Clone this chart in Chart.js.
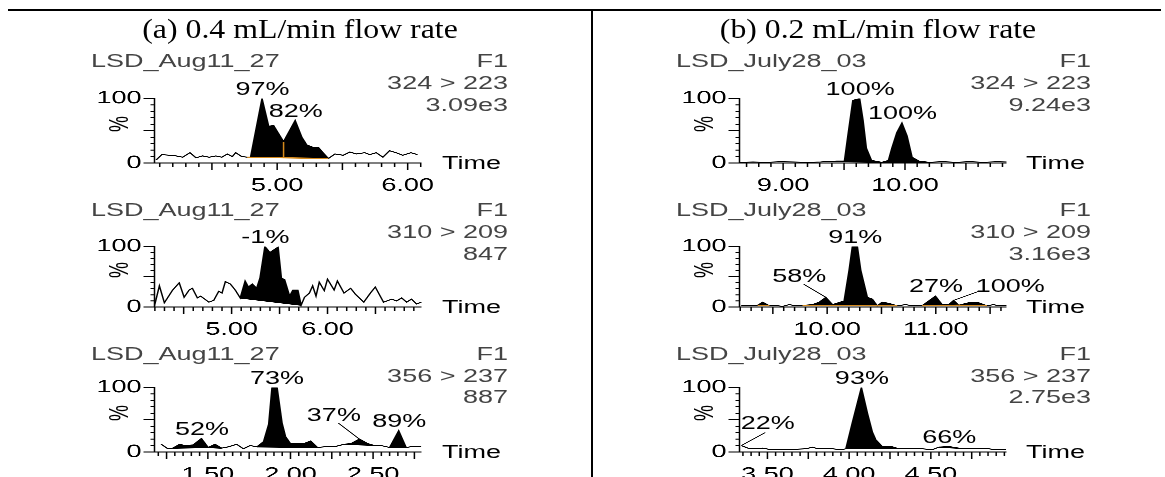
<!DOCTYPE html>
<html>
<head>
<meta charset="utf-8">
<script src="https://cdn.jsdelivr.net/npm/chart.js@4.4.1/dist/chart.umd.min.js"></script>
<style>
html, body { margin: 0; padding: 0; background: #fff; overflow: hidden; }
body { width: 1165px; height: 477px; position: relative; }
.rule { position: absolute; background: #000; }
#stage { position: absolute; left: 0; top: 0; width: 777px; height: 477px;
  transform: scaleX(1.5); transform-origin: 0 0; }
#stage canvas { position: absolute; }
.t { position: absolute; white-space: nowrap; line-height: 1; color: #000;
  font-family: "Liberation Sans", Arial, sans-serif; font-size: 18px; }
.g { color: #444; }
.h { position: absolute; white-space: nowrap; line-height: 1; color: #000;
  font-family: "Liberation Serif", "Times New Roman", serif; font-size: 27px; }
</style>
</head>
<body>
<div class="rule" style="left:8px;top:9px;width:1153px;height:2px"></div>
<div class="rule" style="left:591px;top:9px;width:2px;height:468px"></div>
<div id="stage"></div>
<script>
// グラフ部分は横に約1.5倍伸ばされているので、ステージごと横に伸ばす
const SX = 1.5;
const ORANGE = '#d4891c';

// ---- (a) 0.4 mL/min ----
const a1Time = [4.074, 4.116, 4.175, 4.226, 4.276, 4.332, 4.378, 4.428, 4.479, 4.530,
  4.576, 4.618, 4.656, 4.682, 4.728, 4.770, 4.796, 4.884, 4.935, 4.973,
  5.049, 5.138, 5.189, 5.227, 5.278, 5.316, 5.392, 5.443, 5.506, 5.557,
  5.607, 5.671, 5.709, 5.759, 5.810, 5.861, 5.911, 5.962, 6.025, 6.076];
const a1Val = [5, 13, 12, 11, 9, 16, 8, 11, 9, 11,
  9, 14, 10, 16, 10, 9, 9, 100, 57, 58,
  33, 66, 40, 28, 24, 24, 7, 14, 12, 17,
  14, 16, 13, 16, 9, 19, 16, 12, 16, 13];
const a1Peaks = [[4.770, 5.392, 9, 7]];          // [開始, 終了, 開始ベース, 終了ベース]
const a1Splits = [[5.049, 8, 33]];               // ピーク分割線
const a1Labels = [['97%', 4.884, 100], ['82%', 5.138, 66]];
const a1Axis = [4.06, 6.106, 0.1, 0.5, 1];       // [最小, 最大, 細目盛, 太目盛, ラベル間隔]

const a2Time = [4.196, 4.247, 4.299, 4.385, 4.454, 4.505, 4.557, 4.591, 4.643, 4.677,
  4.763, 4.814, 4.866, 4.900, 4.935, 4.987, 5.038, 5.090, 5.141, 5.175,
  5.216, 5.261, 5.296, 5.347, 5.399, 5.485, 5.519, 5.553, 5.605, 5.639,
  5.691, 5.725, 5.760, 5.811, 5.845, 5.880, 5.914, 5.966, 6.000, 6.069,
  6.103, 6.172, 6.241, 6.292, 6.378, 6.447, 6.498, 6.584, 6.670, 6.720,
  6.773, 6.825, 6.876, 6.928, 6.979];
const a2Val = [2, 35, 7, 28, 40, 16, 28, 31, 15, 18,
  8, 11, 26, 23, 42, 38, 28, 15, 43, 33,
  38, 31, 48, 100, 90, 99, 48, 45, 18, 28,
  28, 3, 16, 23, 35, 18, 41, 27, 46, 28,
  43, 23, 31, 21, 8, 23, 33, 8, 13, 10,
  15, 8, 13, 5, 8];
const a2Peaks = [[5.090, 5.725, 15, 3]];
const a2Labels = [['-1%', 5.347, 100]];
const a2Axis = [4.196, 6.98, 0.1, 0.5, 1];

const a3Time = [1.218, 1.258, 1.288, 1.329, 1.360, 1.411, 1.461, 1.502, 1.543, 1.583,
  1.624, 1.674, 1.715, 1.756, 1.797, 1.837, 1.868, 1.888, 1.919, 1.949,
  1.970, 2.000, 2.081, 2.122, 2.163, 2.203, 2.264, 2.325, 2.366, 2.417,
  2.468, 2.508, 2.549, 2.600, 2.655, 2.700, 2.750, 2.790];
const a3Val = [12, 5, 6, 12, 10, 11, 21, 7, 12, 6,
  8, 12, 5, 10, 8, 16, 43, 100, 100, 45,
  24, 13, 13, 17, 7, 8, 8, 12, 13, 20,
  13, 10, 10, 7, 33, 7, 9, 8];
const a3Peaks = [[1.288, 1.502, 6, 7], [1.502, 1.583, 7, 6], [1.797, 2.163, 8, 7],
  [2.325, 2.549, 12, 10], [2.600, 2.700, 7, 7]];
const a3Labels = [['73%', 1.915, 100], ['52%', 1.461, 21], ['37%', 2.417, 20], ['89%', 2.655, 33]];
const a3Axis = [1.177, 2.793, 0.05, 0.25, 0.5];

// ---- (b) 0.2 mL/min ----
const b1Time = [8.642, 8.753, 8.864, 8.975, 9.086, 9.197, 9.308, 9.378, 9.440, 9.503,
  9.531, 9.572, 9.628, 9.656, 9.683, 9.725, 9.808, 9.864, 9.892, 9.933,
  9.975, 10.017, 10.058, 10.114, 10.197, 10.308, 10.419, 10.530, 10.642, 10.753,
  10.833];
const b1Val = [1, 1.5, 1, 2, 1.5, 1, 1.5, 2.5, 3, 3,
  42, 97, 100, 66, 23, 4, 1, 4, 23, 47,
  62, 42, 9, 3, 1, 2, 1, 2, 1, 2,
  1.5];
const b1Peaks = [[9.378, 9.808, 2.5, 1], [9.808, 10.197, 1, 1]];
const b1Labels = [['100%', 9.628, 100], ['100%', 9.975, 62]];
const b1Axis = [8.642, 10.833, 0.1, 0.5, 1];

const b2Time = [9.208, 9.284, 9.361, 9.406, 9.468, 9.529, 9.590, 9.651, 9.713, 9.773,
  9.865, 9.927, 9.988, 10.049, 10.156, 10.202, 10.232, 10.278, 10.309, 10.370,
  10.416, 10.461, 10.507, 10.569, 10.645, 10.722, 10.783, 10.874, 10.997, 11.058,
  11.119, 11.165, 11.211, 11.303, 11.394, 11.471, 11.532, 11.578, 11.650];
const b2Val = [2, 2, 3, 8, 2, 2.5, 1, 4, 2, 2.5,
  4, 8, 16, 4, 10, 61, 100, 100, 61, 16,
  13, 2, 8, 6, 2, 4, 2, 2, 18, 4,
  4, 11, 3, 7, 7, 2, 4, 2, 3];
const b2Peaks = [[9.361, 9.468, 3, 2], [9.773, 10.461, 2.5, 2], [10.461, 10.645, 2, 2],
  [10.874, 11.211, 2, 3], [11.211, 11.471, 3, 2]];
const b2Labels = [['91%', 10.255, 100], ['58%', 9.988, 16], ['27%', 10.997, 18], ['100%', 11.165, 11]];
const b2Axis = [9.193, 11.651, 0.1, 0.5, 1];

const b3Time = [3.340, 3.380, 3.431, 3.471, 3.512, 3.573, 3.654, 3.736, 3.776, 3.807,
  3.858, 3.898, 3.949, 3.980, 4.020, 4.075, 4.112, 4.142, 4.163, 4.204,
  4.265, 4.305, 4.386, 4.447, 4.508, 4.549, 4.610, 4.671, 4.732, 4.793,
  4.854, 4.895, 4.935, 4.960];
const b3Val = [10, 6, 5, 6, 4, 3.5, 4, 5, 7.5, 5,
  5, 5, 3.5, 5, 46, 100, 60, 31, 19, 8,
  8, 5, 5, 5, 3.5, 7.5, 8.5, 6, 5, 5,
  5, 3.5, 3.5, 4];
const b3Peaks = [[3.980, 4.305, 5, 5], [4.549, 4.732, 7.5, 5]];
const b3Labels = [['93%', 4.075, 100], ['22%', 3.340, 10], ['66%', 4.610, 8.5]];
const b3Axis = [3.329, 4.963, 0.05, 0.25, 0.5];

// ---- 文字 ----
const headers = ['(a) 0.4 mL/min flow rate', '(b) 0.2 mL/min flow rate'];
const sampleNames = ['LSD_Aug11_27', 'LSD_July28_03'];
const transitions = ['324 > 223', '310 > 209', '356 > 237'];
const aMaxIntensity = ['3.09e3', '847', '887'];
const bMaxIntensity = ['9.24e3', '3.16e3', '2.75e3'];

// ---- 配置（最終ピクセル） ----
const colAxisX = [155, 740];
const colPlotRight = [423, 1007];
const colNameX = [91, 676];
const colRightX = [508, 1091];
const colHeaderX = [300, 878];
const HEADER_W = 316;
const rowTop = [93, 241, 382];
const rowBottom = [163, 307, 452];
const rowTitleBase = [67, 216, 360];
const rowIonBase = [89, 238, 382];
const rowMaxBase = [111, 260, 403];
// 引き出し線付きラベル [dx, dy, 線の始点x, 線の始点y]（ラベル中心・ベースライン基準）
const leaderOffsets = {
  'a3:37%': [-26, -18, 5, 2],
  'b2:58%': [-27, -15, 5, 2],
  'b2:100%': [56, -8, -31, -1],
  'b3:22%': [26, -16, -2, 3]
};

const Y_W = 45, PAD_T = 14, PAD_R = 25, X_H = 32;
const FONT = '"Liberation Sans", Arial, sans-serif';
const stage = document.getElementById('stage');

function addText(txt, xu, base, align, cls) {
  const d = document.createElement('div');
  d.className = 't ' + (cls || '');
  d.textContent = txt;
  d.style.left = xu + 'px';
  d.style.top = (base - 18 * 0.8465) + 'px';
  if (align === 'right') d.style.transform = 'translateX(-100%)';
  else if (align === 'center') d.style.transform = 'translateX(-50%)';
  stage.appendChild(d);
  return d;
}

// 見出し（本文の文字なので伸ばさず、幅だけ合わせる）
headers.forEach((h, c) => {
  const d = document.createElement('div');
  d.className = 'h';
  d.textContent = h;
  document.body.appendChild(d);
  const w = d.offsetWidth;
  d.style.left = colHeaderX[c] + 'px';
  d.style.top = (39 - 27 * 0.8375) + 'px';
  d.style.transform = 'translateX(-50%) scaleX(' + (HEADER_W / w).toFixed(3) + ')';
});

const isStep = (v, step) => Math.abs(v / step - Math.round(v / step)) < 1e-6;

function axisTicks(min, max, step) {
  const out = [];
  for (let k = Math.ceil(min / step - 1e-9); k * step <= max + 1e-9; k++) {
    out.push({ value: +(k * step).toFixed(4) });
  }
  return out;
}

// 目盛線と軸線
const tickMarks = {
  id: 'tickMarks',
  afterDraw(chart, args, opts) {
    const { ctx, chartArea: a, scales: { x, y } } = chart;
    ctx.save();
    ctx.strokeStyle = '#000';
    ctx.lineWidth = 1;
    ctx.beginPath();
    ctx.moveTo(a.left, a.top - 0.5);
    ctx.lineTo(a.left, a.bottom);
    ctx.lineTo(a.right, a.bottom);
    x.ticks.forEach(t => {
      const px = x.getPixelForValue(t.value);
      const len = isStep(t.value, opts.tall) ? 7 : 4;
      ctx.moveTo(px, a.bottom);
      ctx.lineTo(px, a.bottom + len);
    });
    y.ticks.forEach(t => {
      const py = y.getPixelForValue(t.value);
      const len = (t.value % 50 === 0 ? 11 : 4) / SX;
      ctx.moveTo(a.left, py);
      ctx.lineTo(a.left - len, py);
    });
    ctx.stroke();
    ctx.restore();
  }
};

// 引き出し線
const leaderLines = {
  id: 'leaderLines',
  afterDatasetsDraw(chart, args, opts) {
    const { ctx, scales: { x, y } } = chart;
    ctx.save();
    ctx.strokeStyle = '#000';
    ctx.lineWidth = 0.8;
    opts.labels.forEach(([txt, t, v]) => {
      const off = leaderOffsets[opts.id + ':' + txt];
      if (!off) return;
      const px = x.getPixelForValue(t), py = y.getPixelForValue(v);
      ctx.beginPath();
      ctx.moveTo(px + (off[0] + off[2]) / SX, py + off[1] + off[3]);
      ctx.lineTo(px, py);
      ctx.stroke();
    });
    ctx.restore();
  }
};

const panels = [
  { id: 'a1', col: 0, row: 0, time: a1Time, val: a1Val, peaks: a1Peaks, splits: a1Splits, labels: a1Labels, axis: a1Axis, base: ORANGE, max: aMaxIntensity[0] },
  { id: 'a2', col: 0, row: 1, time: a2Time, val: a2Val, peaks: a2Peaks, splits: [], labels: a2Labels, axis: a2Axis, base: '#000', max: aMaxIntensity[1] },
  { id: 'a3', col: 0, row: 2, time: a3Time, val: a3Val, peaks: a3Peaks, splits: [], labels: a3Labels, axis: a3Axis, base: '#000', max: aMaxIntensity[2] },
  { id: 'b1', col: 1, row: 0, time: b1Time, val: b1Val, peaks: b1Peaks, splits: [], labels: b1Labels, axis: b1Axis, base: '#000', max: bMaxIntensity[0] },
  { id: 'b2', col: 1, row: 1, time: b2Time, val: b2Val, peaks: b2Peaks, splits: [], labels: b2Labels, axis: b2Axis, base: ORANGE, max: bMaxIntensity[1] },
  { id: 'b3', col: 1, row: 2, time: b3Time, val: b3Val, peaks: b3Peaks, splits: [], labels: b3Labels, axis: b3Axis, base: '#000', max: bMaxIntensity[2] }
];

panels.forEach(p => {
  const axisU = colAxisX[p.col] / SX;
  const plotW = (colPlotRight[p.col] - colAxisX[p.col]) / SX;
  const plotH = rowBottom[p.row] - rowTop[p.row];
  const W = Y_W + plotW + PAD_R, H = PAD_T + plotH + X_H;
  const cvLeft = axisU - Y_W, cvTop = rowTop[p.row] - PAD_T;
  const cv = document.createElement('canvas');
  cv.width = W; cv.height = H;
  cv.style.left = cvLeft + 'px';
  cv.style.top = cvTop + 'px';
  stage.appendChild(cv);

  const pts = p.time.map((t, k) => ({ x: t, y: p.val[k] }));
  const datasets = [{ data: pts, borderColor: '#000', borderWidth: 1, pointRadius: 0, fill: false, order: 1 }];
  p.peaks.forEach(([t0, t1, b0, b1]) => {
    const baseIdx = datasets.length + 1;
    datasets.push({ data: pts.filter(d => d.x >= t0 - 1e-9 && d.x <= t1 + 1e-9),
      borderWidth: 0, pointRadius: 0, backgroundColor: '#000', fill: baseIdx, order: 3 });
    datasets.push({ data: [{ x: t0, y: b0 }, { x: t1, y: b1 }],
      borderColor: p.base, borderWidth: 1.2, pointRadius: 0, fill: false, order: 0 });
  });
  p.splits.forEach(([t, v0, v1]) => {
    datasets.push({ data: [{ x: t, y: v0 }, { x: t, y: v1 }],
      borderColor: p.base, borderWidth: 1, pointRadius: 0, fill: false, order: 0 });
  });

  const [xmin, xmax, minor, tall, labelStep] = p.axis;
  const chart = new Chart(cv, {
    type: 'line',
    data: { datasets },
    plugins: [tickMarks, leaderLines],
    options: {
      responsive: false,
      animation: false,
      devicePixelRatio: 3,
      layout: { padding: { left: 0, top: PAD_T, right: PAD_R, bottom: 0 } },
      plugins: {
        legend: { display: false },
        tooltip: { enabled: false },
        tickMarks: { tall },
        leaderLines: { id: p.id, labels: p.labels }
      },
      scales: {
        x: {
          type: 'linear', min: xmin, max: xmax,
          grid: { display: false, drawTicks: false },
          border: { display: false },
          afterBuildTicks: s => { s.ticks = axisTicks(xmin, xmax, minor); },
          afterFit: s => { s.height = X_H; },
          ticks: {
            autoSkip: false, maxRotation: 0, padding: 12, color: '#000',
            font: { family: FONT, size: 18 },
            callback: v => isStep(v, labelStep) ? v.toFixed(2) : ''
          }
        },
        y: {
          min: 0, max: 100,
          grid: { display: false, drawTicks: false },
          border: { display: false },
          afterFit: s => { s.width = Y_W; },
          ticks: {
            stepSize: 10, autoSkip: false, padding: 13 / SX, color: '#000',
            font: { family: FONT, size: 18 },
            callback: v => (v === 0 || v === 100) ? String(v) : ''
          }
        }
      }
    }
  });

  // 見出し文字
  addText(sampleNames[p.col], colNameX[p.col] / SX, rowTitleBase[p.row], 'left', 'g');
  addText('F1', colRightX[p.col] / SX, rowTitleBase[p.row], 'right', 'g');
  addText(transitions[p.row], colRightX[p.col] / SX, rowIonBase[p.row], 'right', 'g');
  addText(p.max, colRightX[p.col] / SX, rowMaxBase[p.row], 'right', 'g');
  addText('Time', (colPlotRight[p.col] + 19) / SX, rowBottom[p.row] + 6.5, 'left');
  const pct = addText('%', (colAxisX[p.col] - 37) / SX, 0, 'left');
  pct.style.top = ((rowTop[p.row] + rowBottom[p.row]) / 2 - 4) + 'px';
  pct.style.transform = 'translate(-50%, -50%) rotate(-90deg)';

  // ピークラベル
  const xs = chart.scales.x, ys = chart.scales.y;
  p.labels.forEach(([txt, t, v]) => {
    const off = leaderOffsets[p.id + ':' + txt] || [0, -3.5];
    addText(txt, cvLeft + xs.getPixelForValue(t) + off[0] / SX, cvTop + ys.getPixelForValue(v) + off[1], 'center');
  });
});
</script>
</body>
</html>
